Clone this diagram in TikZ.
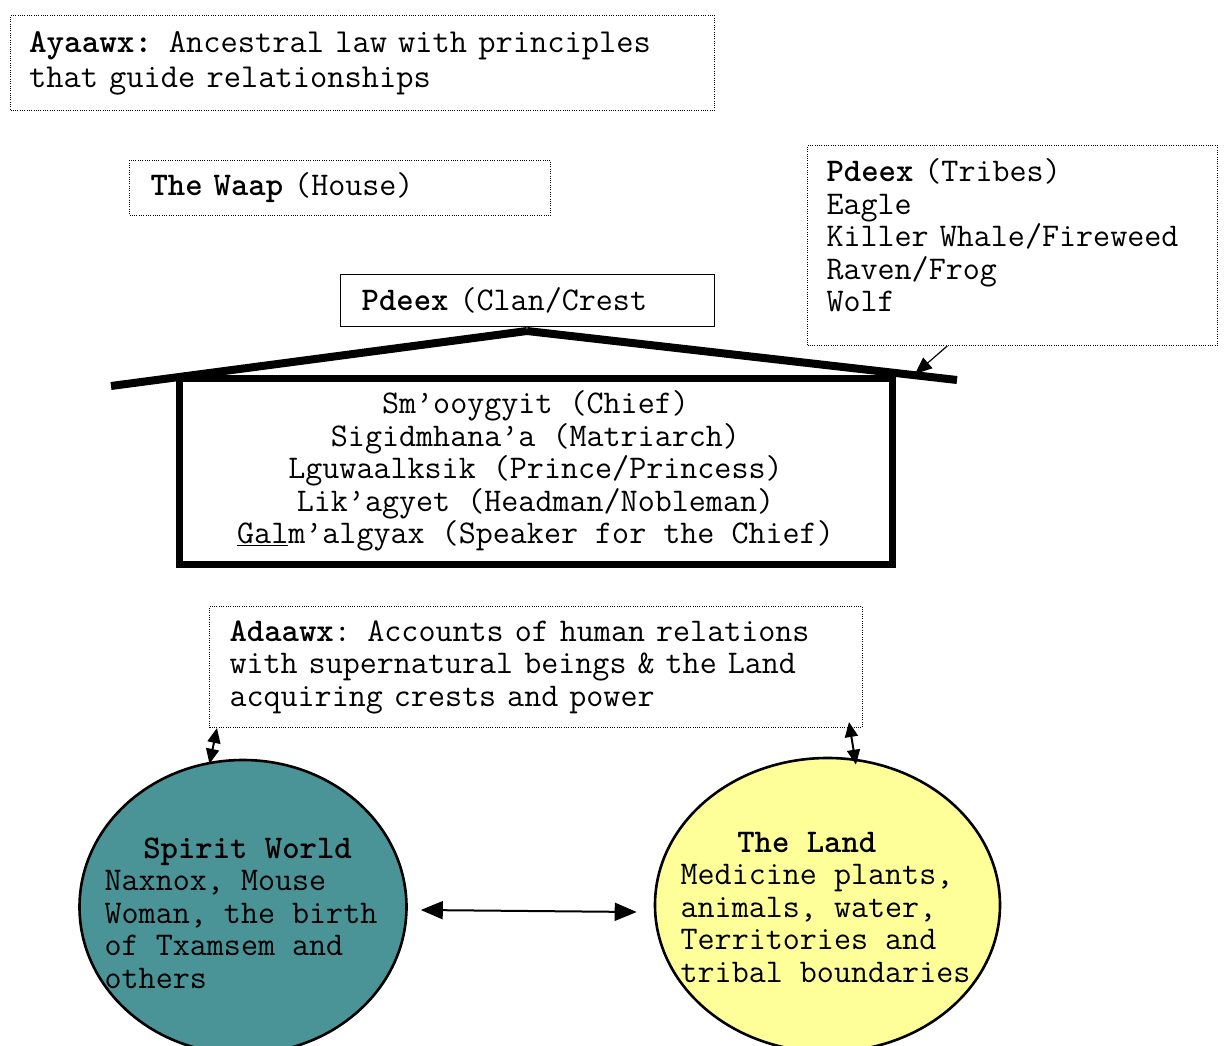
\documentclass[tikz,border=0pt]{standalone}
\usepackage{fontspec}
\usepackage{tikz}
\usetikzlibrary{shapes,positioning,arrows.meta}
\definecolor{spiritteal}{RGB}{74,147,151}
\definecolor{landyellow}{RGB}{255,255,153}
\newcommand{\Word}[1]{\textbf{#1}}

\begin{document}
\begin{tikzpicture}[x=1pt, y=-1pt,
    font=\ttfamily\fontsize{33.1pt}{32.5pt}\selectfont,
    dotbox/.style={draw, dash pattern=on 1pt off 1.3pt, line width=1pt,
      anchor=north west, align=left, inner ysep=0pt},
    world/.style={draw, ellipse, line width=2.6pt, inner sep=0pt},
    link/.style={{Triangle[length=22pt,width=18pt]}-{Triangle[length=22pt,width=18pt]}, line width=2pt},
    shortlink/.style={{Triangle[length=15pt,width=13pt]}-{Triangle[length=15pt,width=13pt]}, line width=2pt},
    pointer/.style={-{Triangle[length=17pt,width=14pt]}, line width=1.2pt}]
        \clip (0,0) rectangle (1224,1046);

        % boxes
        \node[dotbox, inner xsep=18.5pt, text width=667pt, minimum height=95pt,
          font=\ttfamily\fontsize{33.5pt}{35pt}\selectfont] (ayaawx) at (10,15)
          {\Word{Ayaawx:} Ancestral law with principles\\that guide relationships};
        \node[dotbox, inner xsep=21pt, text width=379pt, minimum height=55pt] (waap) at (129,160)
          {\Word{The Waap} (House)};
        \node[dotbox, inner xsep=19pt, text width=372pt, minimum height=200pt] (tribes) at (807,145)
          {\Word{Pdeex} (Tribes)\\Eagle\\Killer Whale/Fireweed\\Raven/Frog\\Wolf\\[-12pt]\mbox{}};
        \node[draw, line width=1.3pt, anchor=north west, align=left, inner ysep=0pt,
          inner xsep=21pt, text width=332pt, minimum height=52pt] (clan) at (340,274)
          {\Word{Pdeex} (Clan/Crest};

        % the house
        \coordinate (eave_l) at (111,386);
        \coordinate (ridge) at (527,331);
        \coordinate (eave_r) at (957,380);
        \draw[line width=8pt] (eave_l) -- (ridge);
        \draw[line width=8pt] (ridge) -- (eave_r);
        \node[draw, line width=7pt, inner sep=0pt, minimum width=713pt, minimum height=186pt,
          align=center] (house) at (535.5,471)
          {Sm’ooygyit (Chief)\\Sigidmhana’a (Matriarch)\\Lguwaalksik (Prince/Princess)\\
           Lik’agyet (Headman/Nobleman)\\\underline{Gal}m’algyax (Speaker for the Chief)};
        \coordinate (roof_hit) at (915,374);

        \node[dotbox, inner xsep=20pt, text width=613pt, minimum height=121pt] (adaawx) at (209,606)
          {\Word{Adaawx}: Accounts of human relations\\with supernatural beings \& the Land\\
           acquiring crests and power};

        % the two worlds
        \node[world, fill=spiritteal, minimum width=327pt, minimum height=294pt] (spirit) at (243,907) {};
        \node[align=left, inner sep=0pt] (spirit_text) at ([xshift=-2pt,yshift=-6pt]spirit.center)
          {\hspace*{38.7pt}\Word{Spirit World}\\Naxnox, Mouse\\Woman, the birth\\of Txamsem and\\others};
        \node[world, fill=landyellow, minimum width=345pt, minimum height=294pt] (land) at (827.5,905) {};
        \node[align=left, inner sep=0pt] (land_text) at ([xshift=-2pt,yshift=-2pt]land.center)
          {\hspace*{56.7pt}\Word{The Land}\\Medicine plants,\\animals, water,\\Territories and\\tribal boundaries};

        \draw[pointer] (tribes.237.4) -- (roof_hit);
        \draw[shortlink] ([xshift=8pt]adaawx.south west) -- ([yshift=-2pt]spirit.103);
        \draw[shortlink] ([xshift=-14pt,yshift=6pt]adaawx.south east) -- ([yshift=-6pt]land.79);
        \draw[link] ([xshift=13pt,yshift=-3pt]spirit.east) -- ([xshift=-17pt,yshift=-7pt]land.west);
      \end{tikzpicture}
\end{document}
